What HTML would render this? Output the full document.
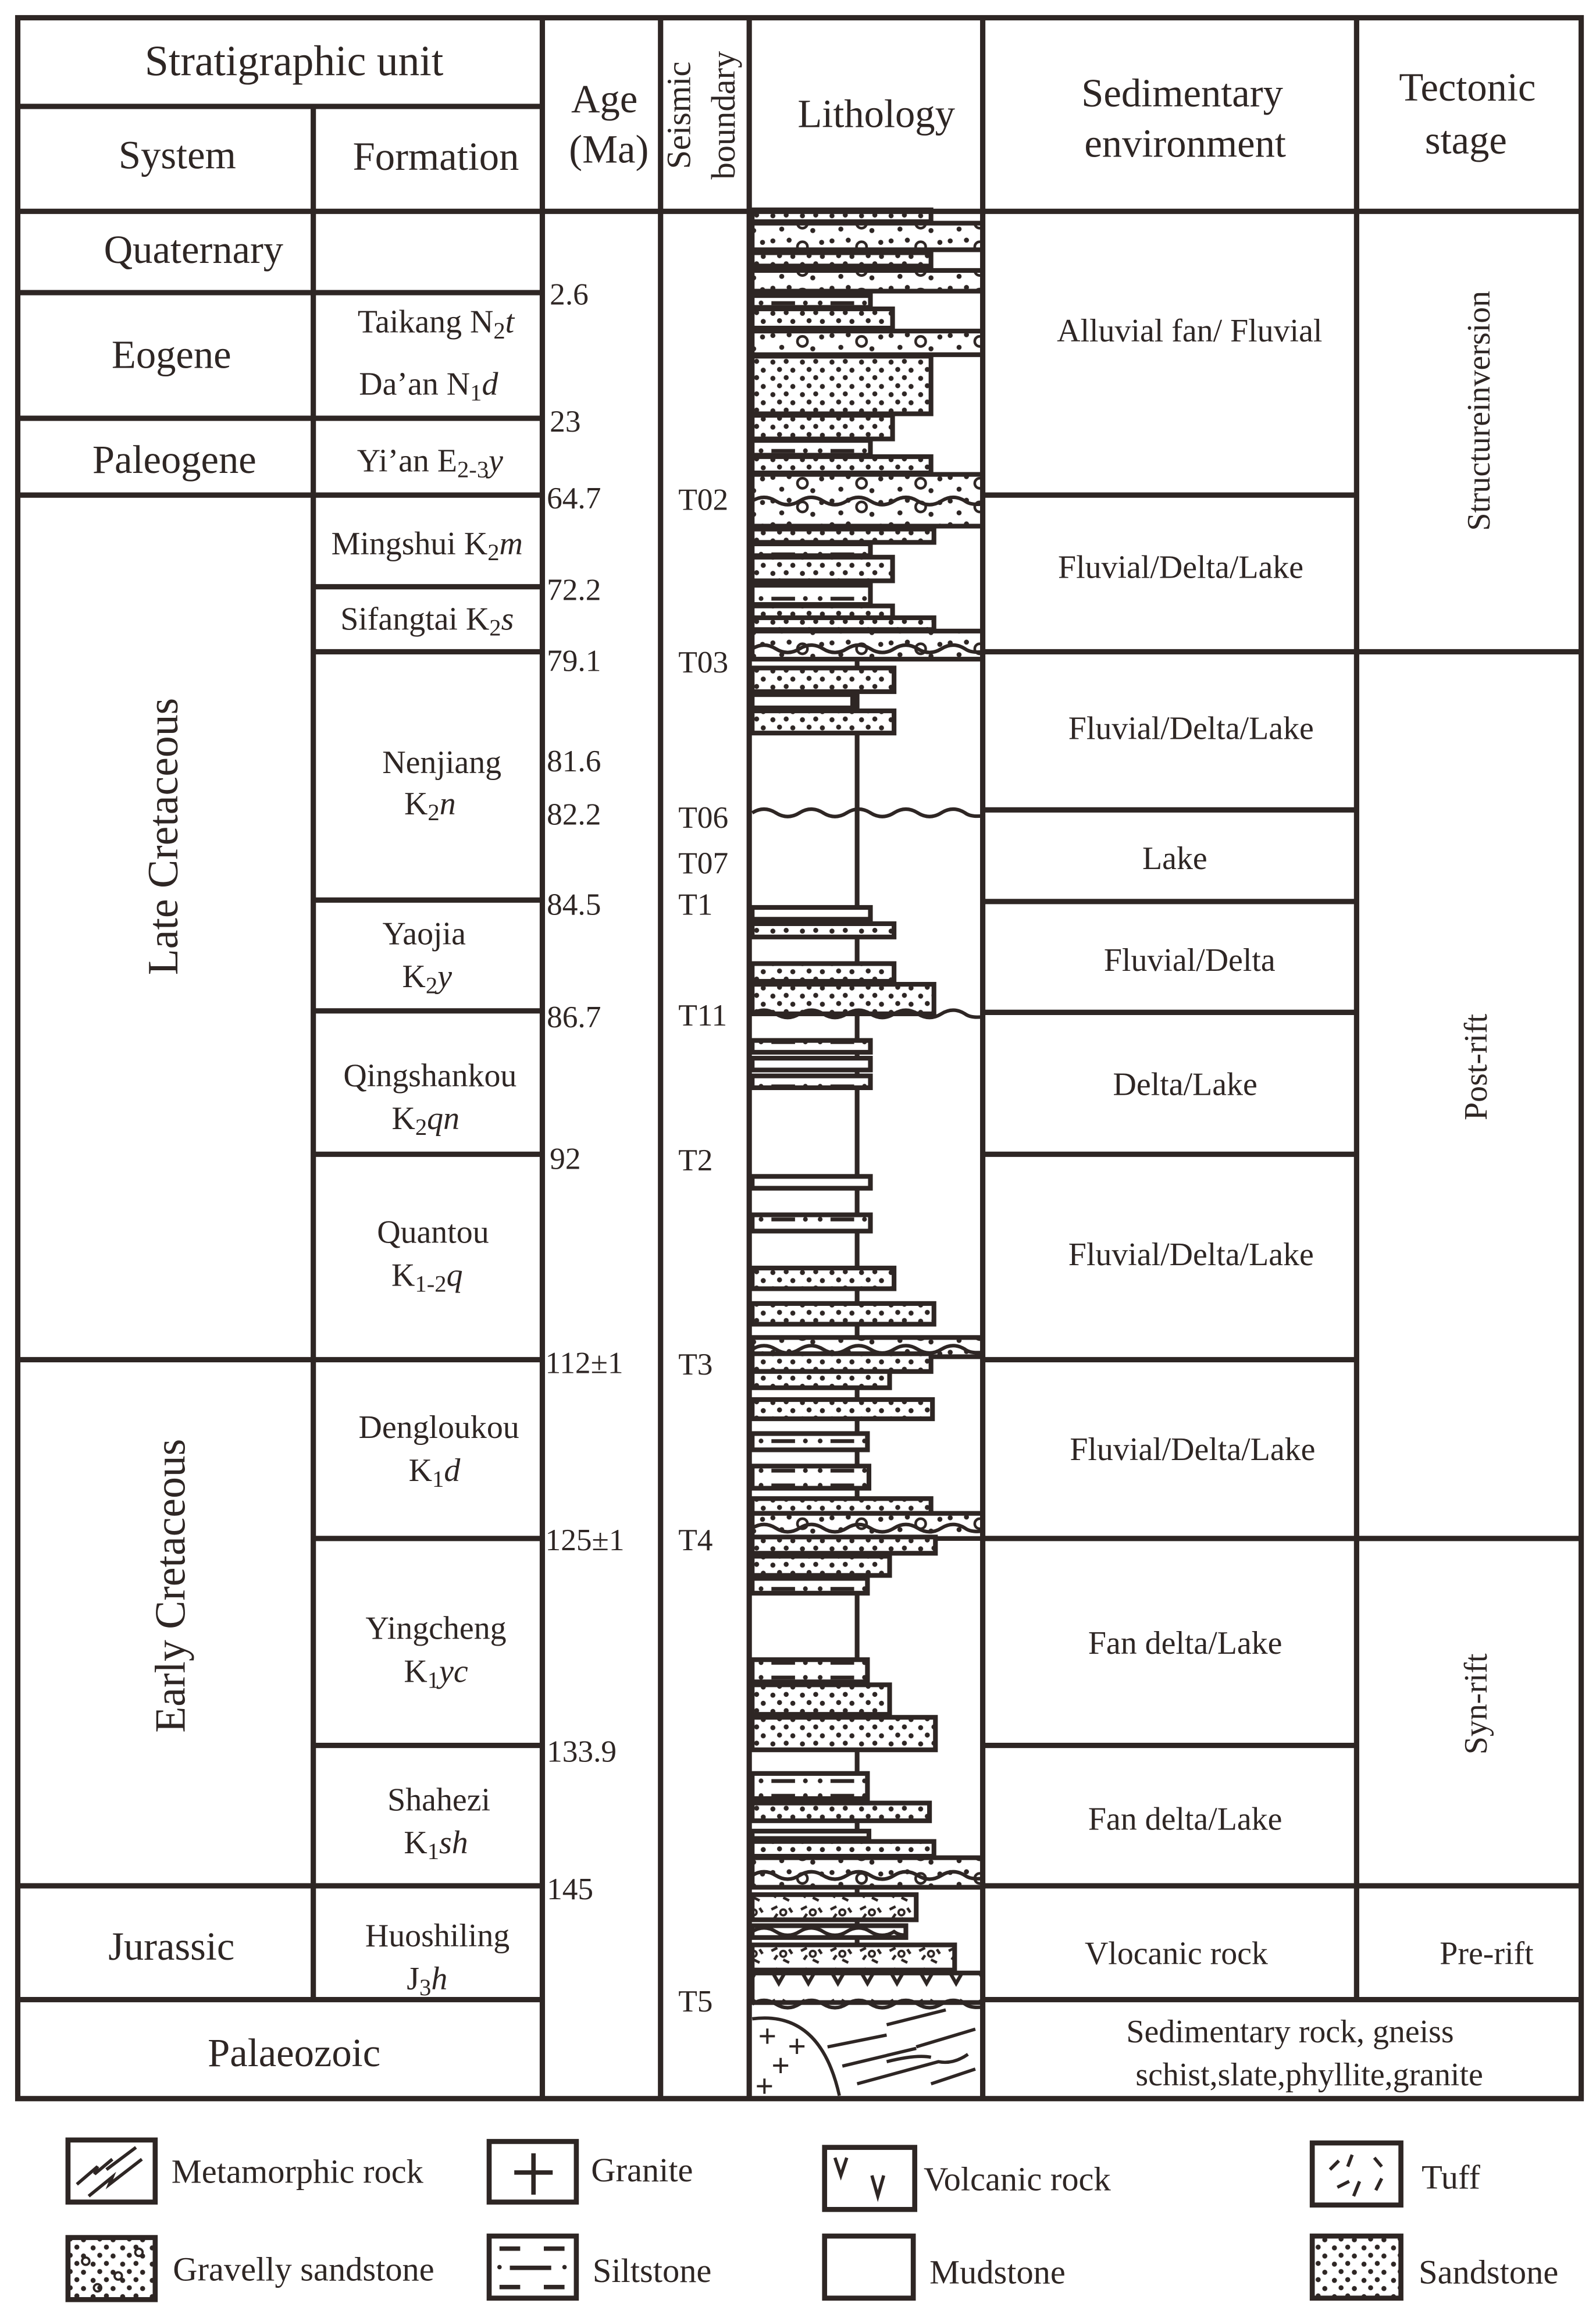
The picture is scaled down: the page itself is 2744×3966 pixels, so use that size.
<!DOCTYPE html>
<html><head><meta charset="utf-8">
<style>
html,body{margin:0;padding:0;background:#fff;}
svg{display:block;}
text{font-family:"Liberation Serif",serif;fill:#2e2624;}
</style></head>
<body>
<svg width="2744" height="3966" viewBox="0 0 1080 1561" xmlns="http://www.w3.org/2000/svg">
<defs>
<pattern id="sand" patternUnits="userSpaceOnUse" width="20" height="11">
<rect width="20" height="11" fill="#fff"/>
<circle cx="3" cy="3" r="1.7" fill="#2e2624"/><circle cx="12" cy="2.5" r="1.7" fill="#2e2624"/>
<circle cx="7.5" cy="8" r="1.7" fill="#2e2624"/><circle cx="16.5" cy="8.5" r="1.7" fill="#2e2624"/>
</pattern>
<pattern id="grav" patternUnits="userSpaceOnUse" width="40" height="16">
<rect width="40" height="16" fill="#fff"/>
<circle cx="3" cy="3" r="1.7" fill="#2e2624"/><circle cx="14" cy="2.5" r="1.7" fill="#2e2624"/>
<circle cx="9" cy="11" r="1.7" fill="#2e2624"/><circle cx="30" cy="12" r="1.7" fill="#2e2624"/>
<circle cx="36" cy="4" r="1.7" fill="#2e2624"/>
<circle cx="23" cy="7" r="3.4" fill="none" stroke="#2e2624" stroke-width="1.8"/>
</pattern>
<pattern id="silt" patternUnits="userSpaceOnUse" width="40" height="10">
<rect width="40" height="10" fill="#fff"/>
<rect x="2" y="3.8" width="16" height="2.6" fill="#2e2624"/>
<circle cx="25" cy="5" r="1.6" fill="#2e2624"/>
<circle cx="35" cy="5" r="1.6" fill="#2e2624"/>
</pattern>
<pattern id="tuff" patternUnits="userSpaceOnUse" width="20" height="14">
<rect width="20" height="14" fill="#fff"/>
<path d="M2 4 l4 -2 M10 10 l4 2 M14 3 l2 3 M4 10 l2 -3" stroke="#2e2624" stroke-width="1.8"/>
<circle cx="10" cy="6" r="2" fill="none" stroke="#2e2624" stroke-width="1.5"/>
</pattern>
<pattern id="volc" patternUnits="userSpaceOnUse" width="20" height="18">
<rect width="20" height="18" fill="#fff"/>
<path d="M3 3 L7 10 L11 3" fill="none" stroke="#2e2624" stroke-width="2.4"/>
</pattern>
<path id="w" d="M0 0 q8 -5 16 0 t16 0 t16 0 t16 0 t16 0 t16 0 t16 0 t16 0 t16 0 q4 3 12 2" fill="none" stroke="#2e2624" stroke-width="2.4"/>
<path id="ws" d="M0 0 q8 -5 16 0 t16 0 t16 0 t16 0 t16 0 t16 0 q4 3 8 2" fill="none" stroke="#2e2624" stroke-width="2.4"/>
</defs>

<rect width="1080" height="1561" fill="#fff"/>

<g stroke="#2e2624" stroke-width="3.2">
<line x1="580" y1="143" x2="580" y2="1338"/>
<rect x="509" y="142" width="121" height="8" fill="url(#sand)"/>
<rect x="509" y="151" width="156" height="18" fill="url(#grav)"/>
<rect x="509" y="171" width="121" height="9" fill="url(#sand)"/>
<rect x="509" y="183" width="156" height="14" fill="url(#grav)"/>
<rect x="509" y="200" width="80" height="8" fill="url(#silt)"/>
<rect x="509" y="209" width="95" height="13" fill="url(#sand)"/>
<rect x="509" y="224" width="156" height="16" fill="url(#grav)"/>
<rect x="509" y="241" width="121" height="39" fill="url(#sand)"/>
<rect x="509" y="281" width="95" height="16" fill="url(#sand)"/>
<rect x="509" y="298" width="80" height="10" fill="url(#silt)"/>
<rect x="509" y="309" width="121" height="11" fill="url(#sand)"/>
<rect x="509" y="321" width="156" height="35" fill="url(#grav)"/>
<rect x="509" y="358" width="123" height="9" fill="url(#sand)"/>
<rect x="509" y="368" width="80" height="8" fill="url(#silt)"/>
<rect x="509" y="377" width="95" height="16" fill="url(#sand)"/>
<rect x="509" y="396" width="80" height="13" fill="url(#silt)"/>
<rect x="509" y="410" width="95" height="8" fill="url(#sand)"/>
<rect x="509" y="418" width="123" height="8" fill="url(#sand)"/>
<rect x="509" y="427" width="156" height="19" fill="url(#grav)"/>
<rect x="509" y="452" width="96" height="16" fill="url(#sand)"/>
<rect x="509" y="470" width="68" height="9" fill="#fff"/>
<rect x="509" y="481" width="96" height="15" fill="url(#sand)"/>
<rect x="509" y="614" width="80" height="8" fill="#fff"/>
<rect x="509" y="625" width="96" height="9" fill="url(#sand)"/>
<rect x="509" y="652" width="96" height="12" fill="url(#sand)"/>
<rect x="509" y="666" width="123" height="20" fill="url(#sand)"/>
<rect x="509" y="704" width="80" height="8" fill="url(#silt)"/>
<rect x="509" y="716" width="80" height="8" fill="url(#silt)"/>
<rect x="509" y="728" width="80" height="8" fill="url(#silt)"/>
<rect x="509" y="796" width="80" height="8" fill="url(#silt)"/>
<rect x="509" y="822" width="80" height="11" fill="url(#silt)"/>
<rect x="509" y="858" width="96" height="14" fill="url(#sand)"/>
<rect x="509" y="882" width="123" height="14" fill="url(#sand)"/>
<rect x="509" y="905" width="156" height="13" fill="url(#grav)"/>
<rect x="509" y="916" width="121" height="12" fill="url(#sand)"/>
<rect x="509" y="928" width="93" height="11" fill="url(#sand)"/>
<rect x="509" y="947" width="122" height="13" fill="url(#sand)"/>
<rect x="509" y="970" width="78" height="11" fill="url(#silt)"/>
<rect x="509" y="992" width="79" height="15" fill="url(#silt)"/>
<rect x="509" y="1014" width="121" height="10" fill="url(#sand)"/>
<rect x="509" y="1024" width="156" height="17" fill="url(#grav)"/>
<rect x="509" y="1040" width="124" height="11" fill="url(#sand)"/>
<rect x="509" y="1053" width="93" height="13" fill="url(#sand)"/>
<rect x="509" y="1068" width="78" height="10" fill="url(#silt)"/>
<rect x="509" y="1123" width="78" height="15" fill="url(#silt)"/>
<rect x="509" y="1140" width="93" height="20" fill="url(#sand)"/>
<rect x="509" y="1162" width="124" height="22" fill="url(#sand)"/>
<rect x="509" y="1200" width="78" height="17" fill="url(#silt)"/>
<rect x="509" y="1220" width="120" height="12" fill="url(#sand)"/>
<rect x="509" y="1239" width="79" height="5" fill="#fff"/>
<rect x="509" y="1246" width="123" height="10" fill="url(#sand)"/>
<rect x="509" y="1257" width="156" height="20" fill="url(#grav)"/>
<rect x="509" y="1282" width="111" height="17" fill="url(#tuff)"/>
<rect x="509" y="1303" width="104" height="8" fill="#fff"/>
<rect x="509" y="1316" width="137" height="17" fill="url(#tuff)"/>
<rect x="509" y="1335" width="156" height="20" fill="url(#volc)"/>
</g>
<g>
<use href="#w" x="509" y="339"/>
<use href="#w" x="509" y="439"/>
<use href="#w" x="509" y="550"/>
<use href="#w" x="509" y="686"/>
<use href="#w" x="509" y="913"/>
<use href="#w" x="509" y="1034"/>
<use href="#w" x="509" y="1269"/>
<use href="#ws" x="509" y="1307"/>
<use href="#w" x="509" y="1356"/>
</g>
<g stroke="#2e2624" stroke-width="2.2" fill="none">
<path d="M509 1366 Q555 1360 568 1418"/>
<path d="M560 1385 l40 -8 M570 1398 l50 -12 M600 1370 l40 -10 M580 1410 l55 -15 q10 2 20 -5 M620 1385 l40 -12 M630 1410 l30 -10 M600 1395 q20 -5 30 -3"/>
</g>
<g fill="#2e2624" font-size="22" font-weight="bold">
<text x="513" y="1385">+</text><text x="533" y="1392">+</text><text x="522" y="1405">+</text><text x="511" y="1419">+</text>
</g>

<g stroke="#2e2624" stroke-width="3.6" fill="none">
<rect x="12" y="12" width="1058" height="1408"/>
<line x1="367" y1="12" x2="367" y2="1420"/>
<line x1="447" y1="12" x2="447" y2="1420"/>
<line x1="507" y1="12" x2="507" y2="1420"/>
<line x1="665" y1="12" x2="665" y2="1420"/>
<line x1="918" y1="12" x2="918" y2="1353"/>
<line x1="212" y1="72" x2="212" y2="1353"/>
<line x1="12" y1="72" x2="367" y2="72"/>
<line x1="12" y1="143" x2="1070" y2="143"/>
<path d="M12 198H212M12 283H212M12 335H212M12 920H212M12 1276H212M12 1353H367"/>
<path d="M212 198H367M212 283H367M212 335H367M212 397H367M212 441H367M212 609H367M212 684H367M212 781H367M212 920H367M212 1041H367M212 1181H367M212 1276H367"/>
<path d="M665 335H918M665 441H1070M665 548H918M665 610H918M665 685H918M665 781H918M665 920H918M665 1041H1070M665 1181H918M665 1276H1070M665 1353H1070"/>
</g>

<g text-anchor="middle">
<text x="199" y="51" font-size="29">Stratigraphic unit</text>
<text x="120" y="114" font-size="27">System</text>
<text x="295" y="115" font-size="27">Formation</text>
<text x="409" y="76" font-size="27">Age</text>
<text x="412" y="110" font-size="27">(Ma)</text>
<text transform="translate(467,78) rotate(-90)" font-size="23">Seismic</text>
<text transform="translate(497,78) rotate(-90)" font-size="23">boundary</text>
<text x="593" y="86" font-size="27">Lithology</text>
<text x="800" y="72" font-size="27">Sedimentary</text>
<text x="802" y="106" font-size="27">environment</text>
<text x="993" y="68" font-size="27">Tectonic</text>
<text x="992" y="104" font-size="27">stage</text>
</g>

<g text-anchor="middle" font-size="27">
<text x="131" y="178">Quaternary</text>
<text x="116" y="249">Eogene</text>
<text x="118" y="320">Paleogene</text>
<text transform="translate(120,566) rotate(-90)" font-size="29">Late Cretaceous</text>
<text transform="translate(125,1073) rotate(-90)" font-size="29">Early Cretaceous</text>
<text x="116" y="1326">Jurassic</text>
<text x="199" y="1398">Palaeozoic</text>
</g>

<g text-anchor="middle" font-size="22">
<text x="295" y="225">Taikang N<tspan font-size="16" dy="4">2</tspan><tspan dy="-4" font-style="italic">t</tspan></text>
<text x="290" y="267">Da’an N<tspan font-size="16" dy="4">1</tspan><tspan dy="-4" font-style="italic">d</tspan></text>
<text x="291" y="319">Yi’an E<tspan font-size="16" dy="4">2-3</tspan><tspan dy="-4" font-style="italic">y</tspan></text>
<text x="289" y="375">Mingshui K<tspan font-size="16" dy="4">2</tspan><tspan dy="-4" font-style="italic">m</tspan></text>
<text x="289" y="426">Sifangtai K<tspan font-size="16" dy="4">2</tspan><tspan dy="-4" font-style="italic">s</tspan></text>
<text x="299" y="523">Nenjiang</text>
<text x="291" y="551">K<tspan font-size="16" dy="4">2</tspan><tspan dy="-4" font-style="italic">n</tspan></text>
<text x="287" y="639">Yaojia</text>
<text x="289" y="668">K<tspan font-size="16" dy="4">2</tspan><tspan dy="-4" font-style="italic">y</tspan></text>
<text x="291" y="735">Qingshankou</text>
<text x="288" y="764">K<tspan font-size="16" dy="4">2</tspan><tspan dy="-4" font-style="italic">qn</tspan></text>
<text x="293" y="841">Quantou</text>
<text x="289" y="870">K<tspan font-size="16" dy="4">1-2</tspan><tspan dy="-4" font-style="italic">q</tspan></text>
<text x="297" y="973">Dengloukou</text>
<text x="294" y="1002">K<tspan font-size="16" dy="4">1</tspan><tspan dy="-4" font-style="italic">d</tspan></text>
<text x="295" y="1109">Yingcheng</text>
<text x="295" y="1138">K<tspan font-size="16" dy="4">1</tspan><tspan dy="-4" font-style="italic">yc</tspan></text>
<text x="297" y="1225">Shahezi</text>
<text x="295" y="1254">K<tspan font-size="16" dy="4">1</tspan><tspan dy="-4" font-style="italic">sh</tspan></text>
<text x="296" y="1317">Huoshiling</text>
<text x="289" y="1346">J<tspan font-size="16" dy="4">3</tspan><tspan dy="-4" font-style="italic">h</tspan></text>
</g>

<g font-size="21">
<text x="372" y="206">2.6</text>
<text x="372" y="292">23</text>
<text x="370" y="344">64.7</text>
<text x="370" y="406">72.2</text>
<text x="370" y="454">79.1</text>
<text x="370" y="522">81.6</text>
<text x="370" y="558">82.2</text>
<text x="370" y="619">84.5</text>
<text x="370" y="695">86.7</text>
<text x="372" y="791">92</text>
<text x="369" y="929">112±1</text>
<text x="369" y="1049">125±1</text>
<text x="370" y="1192">133.9</text>
<text x="370" y="1285">145</text>
</g>
<g font-size="21">
<text x="459" y="345">T02</text>
<text x="459" y="455">T03</text>
<text x="459" y="560">T06</text>
<text x="459" y="591">T07</text>
<text x="459" y="619">T1</text>
<text x="459" y="694">T11</text>
<text x="459" y="792">T2</text>
<text x="459" y="930">T3</text>
<text x="459" y="1049">T4</text>
<text x="459" y="1361">T5</text>
</g>

<g text-anchor="middle" font-size="22">
<text x="805" y="231">Alluvial fan/ Fluvial</text>
<text x="799" y="391">Fluvial/Delta/Lake</text>
<text x="806" y="500">Fluvial/Delta/Lake</text>
<text x="795" y="588">Lake</text>
<text x="805" y="657">Fluvial/Delta</text>
<text x="802" y="741">Delta/Lake</text>
<text x="806" y="856">Fluvial/Delta/Lake</text>
<text x="807" y="988">Fluvial/Delta/Lake</text>
<text x="802" y="1119">Fan delta/Lake</text>
<text x="802" y="1238">Fan delta/Lake</text>
<text x="796" y="1329">Vlocanic rock</text>
<text x="873" y="1382">Sedimentary rock, gneiss</text>
<text x="886" y="1411">schist,slate,phyllite,granite</text>
<text x="1006" y="1329">Pre-rift</text>
<text transform="translate(1008,278) rotate(-90)">Structureinversion</text>
<text transform="translate(1006,722) rotate(-90)">Post-rift</text>
<text transform="translate(1006,1153) rotate(-90)">Syn-rift</text>
</g>

<g stroke="#2e2624" stroke-width="3.4">
<rect x="46" y="1448" width="59" height="42" fill="#fff"/>
<rect x="331" y="1449" width="59" height="41" fill="#fff"/>
<rect x="558" y="1453" width="61" height="42" fill="#fff"/>
<rect x="888" y="1450" width="60" height="42" fill="#fff"/>
<rect x="46" y="1514" width="59" height="42" fill="url(#sand)"/>
<rect x="331" y="1513" width="59" height="42" fill="#fff"/>
<rect x="558" y="1513" width="60" height="42" fill="#fff"/>
<rect x="888" y="1513" width="60" height="42" fill="url(#sand)"/>
</g>
<g stroke="#2e2624" stroke-width="2.2" fill="none">
<path d="M52 1478 l14 -12 l-2 5 l12 -10 M60 1486 l16 -13 l-2 5 l22 -17 M72 1468 l20 -15"/>
<path d="M361 1457 v28 M348 1470 h26" stroke-width="3"/>
<path d="M565 1460 l4 12 l4 -12 M590 1472 l4 14 l4 -14"/>
<path d="M900 1468 l6 -6 M915 1458 l-3 8 M930 1460 l5 6 M905 1480 l8 -4 M920 1476 l-4 10 M935 1474 l-4 8"/>
</g>
<g fill="none" stroke="#2e2624" stroke-width="1.5">
<circle cx="58" cy="1530" r="2.5"/><circle cx="80" cy="1540" r="2.5"/><circle cx="94" cy="1524" r="2.5"/><circle cx="66" cy="1548" r="2.5"/>
</g>
<g fill="#2e2624">
<rect x="338" y="1520" width="14" height="3"/><rect x="368" y="1520" width="14" height="3"/>
<rect x="345" y="1533" width="28" height="3"/><circle cx="338" cy="1534" r="1.5"/><circle cx="382" cy="1534" r="1.5"/>
<rect x="338" y="1546" width="14" height="3"/><rect x="368" y="1546" width="14" height="3"/>
</g>
<g font-size="23">
<text x="116" y="1477">Metamorphic rock</text>
<text x="400" y="1476">Granite</text>
<text x="625" y="1482">Volcanic rock</text>
<text x="962" y="1481">Tuff</text>
<text x="117" y="1543">Gravelly sandstone</text>
<text x="401" y="1544">Siltstone</text>
<text x="629" y="1545">Mudstone</text>
<text x="960" y="1545">Sandstone</text>
</g>
</svg>
</body></html>
